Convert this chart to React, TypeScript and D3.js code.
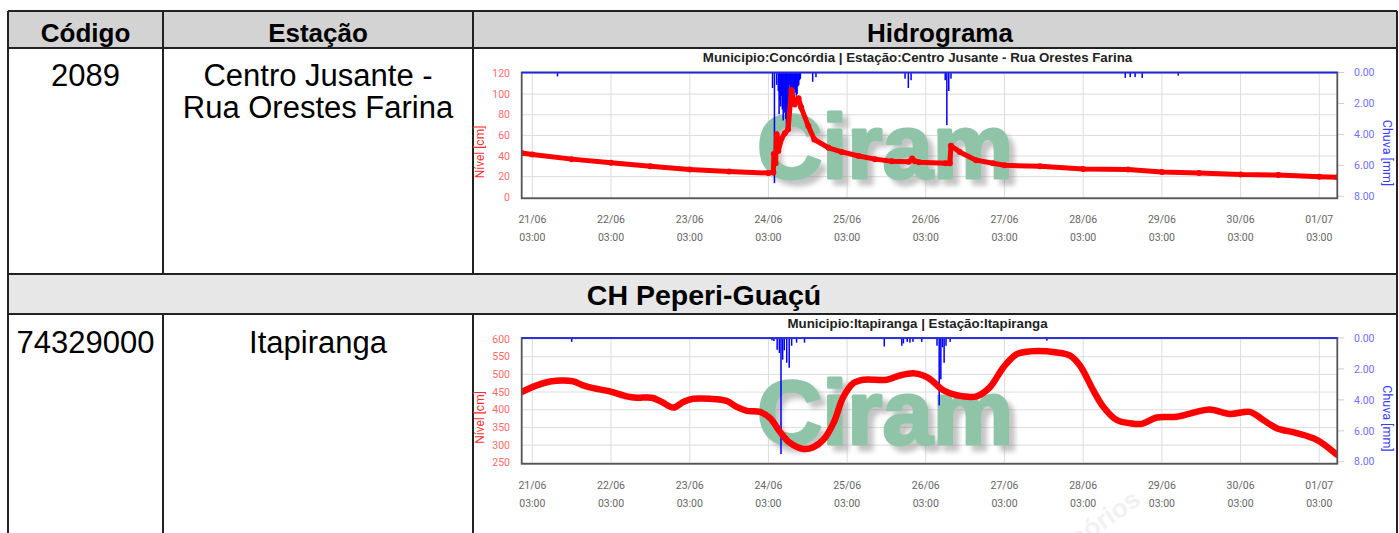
import React from "react";
import * as d3 from "d3";

const parse = d3.timeParse("%d/%m %H:%M");

// ---------- data ----------
const xDomain = ["20/06 23:45", "01/07 08:30"];
const xTickDays = ["21/06", "22/06", "23/06", "24/06", "25/06", "26/06", "27/06", "28/06", "29/06", "30/06", "01/07"];
const xTickHour = "03:00";

const nivelTicksConcordia = [0, 20, 40, 60, 80, 100, 120];
const nivelTicksItapiranga = [250, 300, 350, 400, 450, 500, 550, 600];
const chuvaTicks = [0, 2, 4, 6, 8];

const nivelConcordia: [string, number][] = [
  ["20/06 23:45", 43], ["21/06 03:00", 41.5], ["21/06 15:00", 37], ["22/06 03:00", 33.5],
  ["22/06 15:00", 30], ["23/06 03:00", 27], ["23/06 15:00", 25], ["24/06 03:00", 23.5],
  ["24/06 04:30", 24], ["24/06 04:40", 42], ["24/06 05:10", 33], ["24/06 05:30", 61],
  ["24/06 06:00", 45], ["24/06 07:00", 57], ["24/06 08:00", 62], ["24/06 09:00", 66],
  ["24/06 10:00", 104], ["24/06 11:00", 90], ["24/06 12:10", 96], ["24/06 13:00", 87],
  ["24/06 15:10", 69], ["24/06 17:00", 56], ["24/06 21:20", 48], ["25/06 01:20", 44],
  ["25/06 06:30", 40], ["25/06 11:30", 37], ["25/06 16:40", 35], ["25/06 21:50", 34.5],
  ["25/06 22:50", 37.5], ["25/06 23:40", 35], ["26/06 01:00", 34], ["26/06 09:00", 33],
  ["26/06 10:20", 33], ["26/06 10:40", 50], ["26/06 13:20", 44], ["26/06 18:20", 36],
  ["26/06 23:30", 33], ["27/06 03:00", 31], ["27/06 13:50", 30], ["28/06 03:00", 27.5],
  ["28/06 16:40", 27], ["29/06 03:00", 24.5], ["29/06 14:20", 23.5], ["30/06 03:00", 22],
  ["30/06 14:30", 21.5], ["01/07 03:00", 20], ["01/07 08:30", 19.5],
];

const chuvaConcordia: [string, number][] = [
  ["21/06 10:40", 0.25], ["24/06 04:15", 1.0], ["24/06 04:50", 7.15], ["24/06 05:30", 0.8],
  ["24/06 06:00", 1.2], ["24/06 06:15", 2.7], ["24/06 06:30", 1.8], ["24/06 06:45", 2.2],
  ["24/06 07:00", 1.5], ["24/06 07:15", 2.4], ["24/06 07:30", 3.1], ["24/06 07:45", 2.0],
  ["24/06 08:00", 2.6], ["24/06 08:15", 3.0], ["24/06 08:30", 3.55], ["24/06 08:45", 2.5],
  ["24/06 09:00", 2.1], ["24/06 09:15", 1.4], ["24/06 09:30", 0.8], ["24/06 09:45", 1.0],
  ["24/06 10:00", 1.45], ["24/06 10:15", 1.2], ["24/06 10:30", 1.6], ["24/06 10:45", 1.5],
  ["24/06 11:00", 1.1], ["24/06 11:15", 1.3], ["24/06 11:30", 1.5], ["24/06 11:45", 1.4],
  ["24/06 12:00", 0.9], ["24/06 12:15", 0.8], ["24/06 12:30", 0.5], ["24/06 12:45", 0.4],
  ["24/06 16:30", 0.6], ["24/06 17:30", 0.3], ["25/06 20:40", 0.4], ["25/06 21:40", 1.0],
  ["25/06 22:30", 0.5], ["26/06 08:55", 0.5], ["26/06 09:25", 3.4], ["26/06 10:00", 1.2],
  ["26/06 10:40", 0.4], ["28/06 15:50", 0.35], ["28/06 17:20", 0.3], ["28/06 18:50", 0.3],
  ["28/06 21:00", 0.35], ["29/06 08:00", 0.2],
];

const nivelItapiranga: [string, number][] = [
  ["20/06 23:45", 450], ["21/06 04:20", 469], ["21/06 08:25", 480], ["21/06 12:30", 483],
  ["21/06 15:30", 480], ["21/06 18:30", 469], ["21/06 21:35", 461], ["22/06 02:40", 452],
  ["22/06 07:45", 438], ["22/06 10:50", 434], ["22/06 15:25", 434], ["22/06 18:30", 422],
  ["22/06 22:00", 406], ["23/06 01:00", 422], ["23/06 04:05", 431], ["23/06 09:10", 431],
  ["23/06 14:15", 425], ["23/06 17:20", 408], ["23/06 20:25", 397], ["24/06 00:25", 394],
  ["24/06 03:30", 376], ["24/06 06:30", 338], ["24/06 09:35", 306], ["24/06 13:40", 289],
  ["24/06 16:40", 294], ["24/06 19:45", 315], ["24/06 22:50", 362], ["25/06 01:50", 436],
  ["25/06 04:55", 475], ["25/06 08:00", 485], ["25/06 15:05", 485], ["25/06 19:10", 497],
  ["25/06 23:10", 503], ["26/06 02:15", 497], ["26/06 04:15", 487], ["26/06 08:20", 455],
  ["26/06 12:25", 441], ["26/06 18:30", 438], ["26/06 22:35", 464], ["27/06 02:40", 520],
  ["27/06 06:45", 557], ["27/06 10:45", 565], ["27/06 18:55", 562], ["27/06 23:00", 553],
  ["28/06 02:00", 525], ["28/06 06:05", 455], ["28/06 09:10", 408], ["28/06 13:15", 371],
  ["28/06 17:15", 362], ["28/06 20:50", 360], ["29/06 01:25", 378], ["29/06 07:30", 380],
  ["29/06 13:35", 394], ["29/06 17:40", 401], ["29/06 23:45", 388], ["30/06 05:50", 394],
  ["30/06 09:55", 371], ["30/06 14:00", 348], ["30/06 20:05", 334], ["01/07 02:15", 315],
  ["01/07 08:20", 273],
];

const chuvaItapiranga: [string, number][] = [
  ["21/06 15:00", 0.25], ["24/06 04:05", 0.15], ["24/06 04:40", 0.2], ["24/06 05:40", 0.76],
  ["24/06 06:20", 0.97], ["24/06 06:50", 7.5], ["24/06 07:20", 1.4], ["24/06 07:50", 0.8],
  ["24/06 08:35", 1.6], ["24/06 09:20", 1.92], ["24/06 10:05", 0.5], ["24/06 11:35", 0.3],
  ["24/06 14:00", 0.3], ["25/06 14:20", 0.55], ["25/06 19:40", 0.5], ["25/06 20:10", 0.35],
  ["25/06 21:20", 0.25], ["25/06 22:10", 0.3], ["25/06 23:05", 0.25], ["26/06 01:45", 0.25],
  ["26/06 06:25", 0.5], ["26/06 07:05", 4.36], ["26/06 07:35", 2.67], ["26/06 08:05", 0.6],
  ["26/06 08:35", 1.6], ["26/06 09:10", 0.5], ["26/06 10:25", 0.25], ["27/06 15:55", 0.17],
];

// ---------- layout ----------
const W = 1399;
const H = 533;
const PL = 521.7;
const PR = 1337.3;

const fmtDay = d3.timeFormat("%d/%m");
const fmtHour = d3.timeFormat("%H:%M");

type ChartProps = {
  oy: number;
  title: string;
  nivel: [string, number][];
  chuva: [string, number][];
  nivelTicks: number[];
  dots: boolean;
  smooth: boolean;
  lineWidth: number;
  id: string;
};

function Chart({ oy, title, nivel, chuva, nivelTicks, dots, smooth, lineWidth, id }: ChartProps) {
  const PT = 72.5 + oy;
  const PB = 198.3 + oy;
  const x = d3.scaleTime().domain(xDomain.map((s) => parse(s) as Date)).range([PL, PR]);
  const y = d3
    .scaleLinear()
    .domain(d3.extent(nivelTicks) as [number, number])
    .range([PB - 1, PT + 1]);
  const yR = d3.scaleLinear().domain([0, 8]).range([PT, PB - 2]);
  const ticks = xTickDays.map((d) => parse(`${d} ${xTickHour}`) as Date);
  const line = d3
    .line<[string, number]>()
    .x((d) => x(parse(d[0]) as Date))
    .y((d) => y(d[1]))
    .curve(smooth ? d3.curveCatmullRom.alpha(0.5) : d3.curveLinear);

  return (
    <g>
      <defs>
        <clipPath id={`clip-${id}`}>
          <rect x={PL} y={PT - 1} width={PR - PL} height={PB - PT + 2} />
        </clipPath>
      </defs>
      <text
        x={917.5}
        y={62 + oy}
        textAnchor="middle"
        fontFamily="Liberation Sans, Arial, sans-serif"
        fontWeight="bold"
        fontSize={13.3}
        fill="#222"
      >
        {title}
      </text>
      {/* grid */}
      {ticks.map((t, i) => (
        <line key={`vx${i}`} x1={x(t)} x2={x(t)} y1={PT} y2={PB} stroke="#dcdcdc" strokeWidth={1} />
      ))}
      {nivelTicks.map((v, i) => (
        <line key={`hy${i}`} x1={PL} x2={PR} y1={y(v)} y2={y(v)} stroke="#dcdcdc" strokeWidth={1} />
      ))}
      {/* watermark */}
      <text
        x={757}
        y={178 + oy}
        fontFamily="Liberation Sans, Arial, sans-serif"
        fontWeight="bold"
        fontSize={90}
        fill="#8fc4a8"
        stroke="#8fc4a8"
        strokeWidth={3}
        strokeLinejoin="round"
        filter="url(#wmshadow)"
        textLength={256}
        lengthAdjust="spacingAndGlyphs"
      >
        Ciram
      </text>
      {/* left axis */}
      {nivelTicks.map((v, i) => (
        <text
          key={`ly${i}`}
          x={510}
          y={y(v)}
          dy="0.35em"
          textAnchor="end"
          fontFamily="Roboto, sans-serif"
          fontSize={10.5}
          fill="#ff6a6a"
        >
          {v}
        </text>
      ))}
      <text
        transform={`translate(484, ${152 + oy}) rotate(-90)`}
        textAnchor="middle"
        fontFamily="Roboto, sans-serif"
        fontSize={12}
        fill="#ff3030"
      >
        Nível [cm]
      </text>
      {/* right axis */}
      {chuvaTicks.map((v, i) => (
        <g key={`ry${i}`}>
          <line x1={PR} x2={PR + 7} y1={yR(v)} y2={yR(v)} stroke="#cfcfcf" strokeWidth={1} />
          <text
            x={1354}
            y={yR(v)}
            dy="0.35em"
            textAnchor="start"
            fontFamily="Roboto, sans-serif"
            fontSize={10.5}
            fill="#6f6fff"
          >
            {v.toFixed(2)}
          </text>
        </g>
      ))}
      <text
        transform={`translate(1383, ${153 + oy}) rotate(90)`}
        textAnchor="middle"
        fontFamily="Roboto, sans-serif"
        fontSize={12.5}
        fill="#3a3aff"
      >
        Chuva [mm]
      </text>
      {/* x axis labels */}
      {ticks.map((t, i) => (
        <g key={`xl${i}`} fontFamily="Roboto, sans-serif" fontSize={10.5} fill="#666" textAnchor="middle">
          <text x={x(t)} y={223 + oy}>
            {fmtDay(t)}
          </text>
          <text x={x(t)} y={241 + oy}>
            {fmtHour(t)}
          </text>
        </g>
      ))}
      {/* series */}
      <g clipPath={`url(#clip-${id})`}>
        {chuva.map((d, i) => (
          <rect
            key={`r${i}`}
            x={x(parse(d[0]) as Date) - 0.75}
            y={PT}
            width={1.5}
            height={yR(d[1]) - PT}
            fill="#0000ff"
          />
        ))}
        <path d={line(nivel) || ""} fill="none" stroke="#ff0000" strokeWidth={lineWidth} strokeLinejoin="round" strokeLinecap="round" />
        {dots &&
          nivel.map((d, i) => (
            <circle key={`c${i}`} cx={x(parse(d[0]) as Date)} cy={y(d[1])} r={3} fill="#ff0000" />
          ))}
      </g>
      {/* frame */}
      <rect x={PL} y={PT} width={PR - PL} height={PB - PT} fill="none" stroke="#555" strokeWidth={1.8} />
      <line x1={PL} x2={PR} y1={PT} y2={PT} stroke="#2020ff" strokeWidth={1.6} />
    </g>
  );
}

export default function App() {
  const cellFont = "Liberation Sans, Arial, sans-serif";
  return (
    <svg width={W} height={H} style={{ position: "absolute", left: 0, top: 0, background: "#fff" }}>
      <defs>
        <filter id="wmshadow" x="-10%" y="-20%" width="130%" height="150%">
          <feGaussianBlur in="SourceAlpha" stdDeviation={2.5} result="b" />
          <feOffset in="b" dx={6} dy={6} result="o" />
          <feFlood floodColor="#8a8a8a" floodOpacity={0.5} />
          <feComposite in2="o" operator="in" result="s" />
          <feMerge>
            <feMergeNode in="s" />
            <feMergeNode in="SourceGraphic" />
          </feMerge>
        </filter>
      </defs>
      <rect x={0} y={0} width={W} height={H} fill="#fff" />
      {/* header */}
      <rect x={8} y={11} width={1389} height={37} fill="#d3d3d3" />
      <rect x={8} y={274} width={1389} height={40} fill="#e8e7e8" />
      <g fontFamily={cellFont} fontWeight="bold" fill="#000" textAnchor="middle">
        <text x={85.5} y={42} fontSize={26}>Código</text>
        <text x={318} y={42} fontSize={26}>Estação</text>
        <text x={940} y={42} fontSize={26}>Hidrograma</text>
        <text x={704} y={305} fontSize={28.5}>CH Peperi-Guaçú</text>
      </g>
      <g fontFamily={cellFont} fontSize={31} fill="#000" textAnchor="middle">
        <text x={85.5} y={86}>2089</text>
        <text x={318} y={86}>Centro Jusante -</text>
        <text x={318} y={118}>Rua Orestes Farina</text>
        <text x={85.5} y={353}>74329000</text>
        <text x={318} y={353}>Itapiranga</text>
      </g>
      {/* table lines */}
      <g stroke="#222" strokeWidth={2}>
        <line x1={8} x2={1397} y1={11} y2={11} />
        <line x1={8} x2={1397} y1={48} y2={48} />
        <line x1={8} x2={1397} y1={274} y2={274} />
        <line x1={8} x2={1397} y1={314} y2={314} />
        <line x1={8} x2={8} y1={11} y2={H} />
        <line x1={163} x2={163} y1={11} y2={274} />
        <line x1={473} x2={473} y1={11} y2={274} />
        <line x1={163} x2={163} y1={314} y2={H} />
        <line x1={473} x2={473} y1={314} y2={H} />
        <line x1={1397} x2={1397} y1={11} y2={H} />
      </g>
      <Chart
        id="c1"
        oy={0}
        title="Municipio:Concórdia | Estação:Centro Jusante - Rua Orestes Farina"
        nivel={nivelConcordia}
        chuva={chuvaConcordia}
        nivelTicks={nivelTicksConcordia}
        dots={true}
        smooth={false}
        lineWidth={5}
      />
      <Chart
        id="c2"
        oy={265.5}
        title="Municipio:Itapiranga | Estação:Itapiranga"
        nivel={nivelItapiranga}
        chuva={chuvaItapiranga}
        nivelTicks={nivelTicksItapiranga}
        dots={false}
        smooth={true}
        lineWidth={6.5}
      />
      <text
        transform="translate(1142, 503) rotate(-35)"
        textAnchor="end"
        fontFamily={cellFont}
        fontWeight="bold"
        fontSize={26}
        fill="#f1f1f1"
      >
        Dados Provisórios
      </text>
    </svg>
  );
}
